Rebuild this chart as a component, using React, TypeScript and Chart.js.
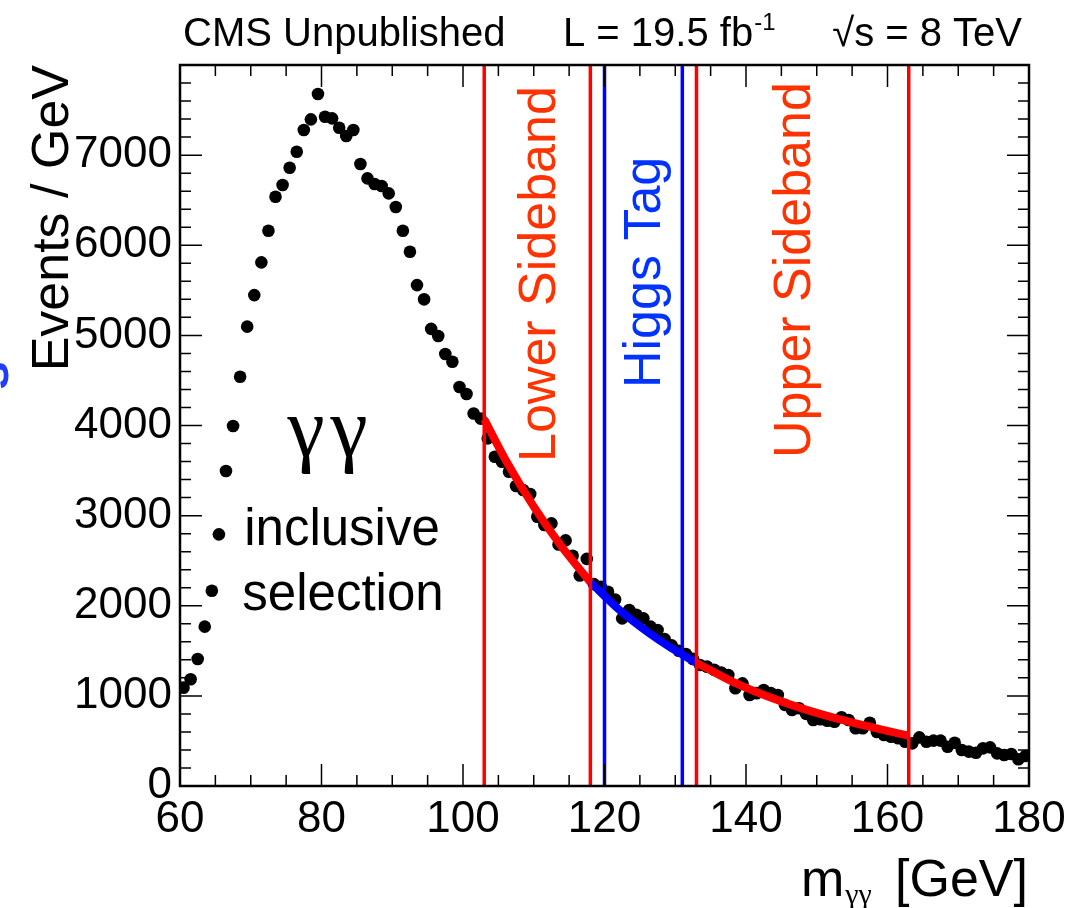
import React, { useEffect, useRef } from "react";
import { Chart, registerables } from "chart.js";

Chart.register(...registerables);

// ---- data ----
const massBins = [
  60.5, 61.5, 62.5, 63.5, 64.5, 65.5, 66.5, 67.5, 68.5, 69.5,
  70.5, 71.5, 72.5, 73.5, 74.5, 75.5, 76.5, 77.5, 78.5, 79.5,
  80.5, 81.5, 82.5, 83.5, 84.5, 85.5, 86.5, 87.5, 88.5, 89.5,
  90.5, 91.5, 92.5, 93.5, 94.5, 95.5, 96.5, 97.5, 98.5, 99.5,
  100.5, 101.5, 102.5, 103.5, 104.5, 105.5, 106.5, 107.5, 108.5, 109.5,
  110.5, 111.5, 112.5, 113.5, 114.5, 115.5, 116.5, 117.5, 118.5, 119.5,
  120.5, 121.5, 122.5, 123.5, 124.5, 125.5, 126.5, 127.5, 128.5, 129.5,
  130.5, 131.5, 132.5, 133.5, 134.5, 135.5, 136.5, 137.5, 138.5, 139.5,
  140.5, 141.5, 142.5, 143.5, 144.5, 145.5, 146.5, 147.5, 148.5, 149.5,
  150.5, 151.5, 152.5, 153.5, 154.5, 155.5, 156.5, 157.5, 158.5, 159.5,
  160.5, 161.5, 162.5, 163.5, 164.5, 165.5, 166.5, 167.5, 168.5, 169.5,
  170.5, 171.5, 172.5, 173.5, 174.5, 175.5, 176.5, 177.5, 178.5, 179.5,
];

const eventsPerGeV = [
  1091, 1184, 1409, 1768, 2167, 2792, 3495, 3994, 4541, 5097,
  5447, 5810, 6161, 6538, 6668, 6860, 7038, 7278, 7397, 7678,
  7426, 7408, 7304, 7212, 7278, 6901, 6742, 6679, 6657, 6576,
  6424, 6161, 5928, 5558, 5400, 5072, 4993, 4793, 4707, 4428,
  4350, 4133, 4076, 3857, 3653, 3598, 3487, 3328, 3284, 3240,
  2988, 2896, 2914, 2680, 2725, 2555, 2335, 2520, 2240, 2211,
  2156, 2070, 1860, 1953, 1900, 1860, 1768, 1731, 1630, 1560,
  1500, 1465, 1410, 1342, 1324, 1290, 1260, 1232, 1084, 1139,
  1010, 1030, 1065, 1032, 1010, 900, 843, 862, 800, 732,
  740, 724, 713, 762, 732, 640, 640, 702, 600, 566,
  547, 529, 491, 473, 540, 491, 503, 503, 436, 480,
  399, 381, 369, 418, 429, 362, 344, 355, 296, 333,
];

const lowerFitMass = [103, 106, 110, 114, 118];
const lowerFitEvents = [4070, 3620, 3100, 2650, 2262];
const signalFitMass = [118, 122, 126, 130, 133];
const signalFitEvents = [2262, 1962, 1715, 1505, 1368];
const upperFitMass = [133, 138, 143, 148, 153, 158, 163];
const upperFitEvents = [1368, 1160, 995, 858, 745, 648, 558];

const sidebandEdges = [103, 118, 133, 163];
const signalEdges = [120, 131];

const xMajorTicks = [60, 80, 100, 120, 140, 160, 180];
const yMajorTicks = [0, 1000, 2000, 3000, 4000, 5000, 6000, 7000];

const FONT = "'Liberation Sans', Arial, Helvetica, sans-serif";
const SERIF = "'Liberation Serif', 'Times New Roman', serif";

function zip(xs: number[], ys: number[]) {
  return xs.map((x, i) => ({ x, y: ys[i] }));
}

const cmsPlugin = {
  id: "cmsDecor",
  beforeDraw(chart: any) {
    const ctx = chart.ctx;
    ctx.save();
    ctx.fillStyle = "#ffffff";
    ctx.fillRect(0, 0, chart.width, chart.height);
    ctx.restore();
  },
  afterDatasetsDraw(chart: any) {
    const ctx: CanvasRenderingContext2D = chart.ctx;
    const xs = chart.scales.x;
    const ys = chart.scales.y;
    const { left, right, top, bottom } = chart.chartArea;

    ctx.save();
    // vertical boundary lines
    ctx.lineWidth = 3.5;
    ctx.strokeStyle = "#ff0000";
    sidebandEdges.forEach((v) => {
      const px = xs.getPixelForValue(v);
      ctx.beginPath();
      ctx.moveTo(px, top);
      ctx.lineTo(px, bottom);
      ctx.stroke();
    });
    ctx.strokeStyle = "#0000ff";
    signalEdges.forEach((v) => {
      const px = xs.getPixelForValue(v);
      ctx.beginPath();
      ctx.moveTo(px, top);
      ctx.lineTo(px, bottom);
      ctx.stroke();
    });

    // ticks
    ctx.strokeStyle = "#000000";
    ctx.lineWidth = 1.5;
    for (let v = xs.min; v <= xs.max + 0.001; v += 5) {
      const px = xs.getPixelForValue(v);
      const len = xMajorTicks.includes(v) ? 22 : 11;
      ctx.beginPath();
      ctx.moveTo(px, bottom);
      ctx.lineTo(px, bottom - len);
      ctx.moveTo(px, top);
      ctx.lineTo(px, top + len);
      ctx.stroke();
    }
    for (let v = ys.min; v <= ys.max + 0.001; v += 200) {
      const py = ys.getPixelForValue(v);
      const len = yMajorTicks.includes(v) ? 22 : 11;
      ctx.beginPath();
      ctx.moveTo(left, py);
      ctx.lineTo(left + len, py);
      ctx.moveTo(right, py);
      ctx.lineTo(right - len, py);
      ctx.stroke();
    }

    // frame
    ctx.lineWidth = 2.5;
    ctx.strokeRect(left, top, right - left, bottom - top);

    // header
    ctx.fillStyle = "#000000";
    ctx.textBaseline = "alphabetic";
    ctx.font = `40px ${FONT}`;
    ctx.textAlign = "left";
    ctx.fillText("CMS Unpublished", 183, 46);
    ctx.fillText("L = 19.5 fb", 563, 46);
    const lw = ctx.measureText("L = 19.5 fb").width;
    ctx.font = `24px ${FONT}`;
    ctx.fillText("-1", 563 + lw + 1, 30);
    ctx.font = `40px ${FONT}`;
    ctx.textAlign = "right";
    ctx.fillText("\u221As = 8 TeV", 1022, 46);

    // y title
    ctx.save();
    ctx.translate(68, 65);
    ctx.rotate(-Math.PI / 2);
    ctx.textAlign = "right";
    ctx.font = `52px ${FONT}`;
    ctx.fillText("Events / GeV", 0, 0);
    ctx.restore();

    // clipped blue fragment at the left edge
    ctx.save();
    ctx.translate(8, 390);
    ctx.rotate(-Math.PI / 2);
    ctx.textAlign = "left";
    ctx.fillStyle = "#1f3cff";
    ctx.font = `bold 52px ${FONT}`;
    ctx.fillText("s", 0, 0);
    ctx.restore();

    // x title
    ctx.textAlign = "left";
    ctx.font = `52px ${FONT}`;
    ctx.fillText("m", 801, 896);
    const mw = ctx.measureText("m").width;
    ctx.font = `30px ${SERIF}`;
    ctx.fillText("\u03B3\u03B3", 801 + mw + 1, 904);
    ctx.font = `52px ${FONT}`;
    ctx.textAlign = "right";
    ctx.fillText("[GeV]", 1028, 896);

    // region labels
    const rot = (text: string, x: number, y: number, color: string) => {
      ctx.save();
      ctx.translate(x, y);
      ctx.rotate(-Math.PI / 2);
      ctx.textAlign = "left";
      ctx.fillStyle = color;
      ctx.font = `52px ${FONT}`;
      ctx.fillText(text, 0, 0);
      ctx.restore();
    };
    rot("Lower Sideband", 555, 462, "#ff3300");
    rot("Higgs Tag", 660, 388, "#0033ff");
    rot("Upper Sideband", 810, 458, "#ff3300");

    // gamma gamma inclusive selection
    ctx.fillStyle = "#000000";
    ctx.textAlign = "center";
    ctx.font = `84px ${SERIF}`;
    ctx.fillText("\u03B3", 306, 456);
    ctx.fillText("\u03B3", 349, 456);
    ctx.font = `51px ${FONT}`;
    ctx.fillText("inclusive", 342, 545);
    ctx.fillText("selection", 343, 610);
    ctx.restore();
  },
};

export default function App() {
  const ref = useRef<HTMLCanvasElement | null>(null);

  useEffect(() => {
    if (!ref.current) return;
    const chart = new Chart(ref.current, {
      type: "scatter",
      data: {
        datasets: [
          {
            label: "data",
            data: zip(massBins, eventsPerGeV),
            backgroundColor: "#000000",
            borderColor: "#000000",
            pointRadius: 6.3,
            pointBorderWidth: 0,
            order: 3,
          },
          {
            label: "lower fit",
            data: zip(lowerFitMass, lowerFitEvents),
            showLine: true,
            borderColor: "#ff0000",
            borderWidth: 8,
            pointRadius: 0,
            cubicInterpolationMode: "monotone",
            order: 1,
          },
          {
            label: "signal fit",
            data: zip(signalFitMass, signalFitEvents),
            showLine: true,
            borderColor: "#0000ff",
            borderWidth: 8,
            pointRadius: 0,
            cubicInterpolationMode: "monotone",
            order: 1,
          },
          {
            label: "upper fit",
            data: zip(upperFitMass, upperFitEvents),
            showLine: true,
            borderColor: "#ff0000",
            borderWidth: 8,
            pointRadius: 0,
            cubicInterpolationMode: "monotone",
            order: 1,
          },
        ],
      },
      options: {
        animation: false,
        responsive: false,
        devicePixelRatio: 1,
        layout: { padding: { left: 0, right: 38, top: 65, bottom: 0 } },
        plugins: {
          legend: { display: false },
          tooltip: { enabled: false },
          title: { display: false },
        },
        scales: {
          x: {
            type: "linear",
            min: 60,
            max: 180,
            grid: { display: false, drawTicks: false },
            border: { display: false },
            ticks: {
              stepSize: 20,
              padding: 7,
              color: "#000000",
              font: { family: FONT, size: 44 },
              maxRotation: 0,
              autoSkip: false,
            },
            afterFit: (s: any) => {
              s.height = 122;
              s.paddingLeft = 0;
              s.paddingRight = 0;
            },
          },
          y: {
            type: "linear",
            min: 0,
            max: 8000,
            grid: { display: false, drawTicks: false },
            border: { display: false },
            ticks: {
              stepSize: 1000,
              padding: 8,
              color: "#000000",
              font: { family: FONT, size: 44 },
              callback: (v: any) => (Number(v) > 7000 ? "" : String(v)),
            },
            afterFit: (s: any) => {
              s.width = 180;
              s.paddingTop = 0;
              s.paddingBottom = 0;
            },
          },
        },
      },
      plugins: [cmsPlugin],
    } as any);
    return () => chart.destroy();
  }, []);

  return (
    <div style={{ position: "fixed", left: 0, top: 0, width: 1067, height: 908, background: "#fff" }}>
      <canvas ref={ref} width={1067} height={908} style={{ display: "block", width: 1067, height: 908 }} />
    </div>
  );
}
